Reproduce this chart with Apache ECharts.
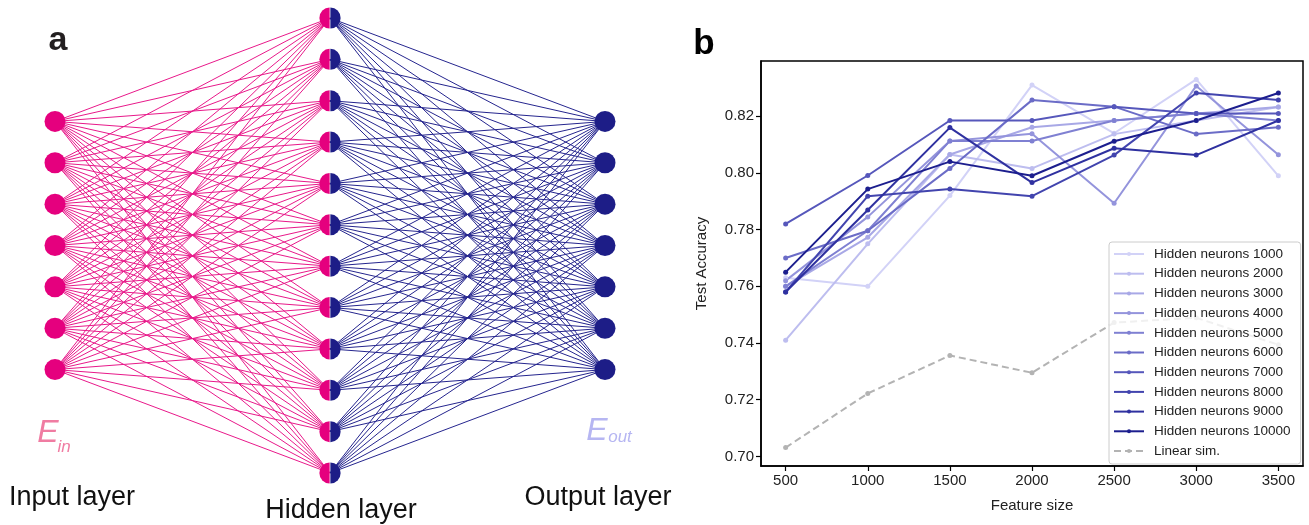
<!DOCTYPE html>
<html>
<head>
<meta charset="utf-8">
<title>Network and test accuracy</title>
<script src="https://cdn.jsdelivr.net/npm/echarts@6/dist/echarts.min.js"></script>
<style>
    html, body {
        margin: 0;
        padding: 0;
        background: #fff;
    }

    #main {
        width: 1309px;
        height: 525px;
    }
</style>
</head>
<body>
<div id="main"></div>
<script>
    // ---- panel a : nodes per layer ----
    var layerSizes = [7, 12, 7];
    var layerNames = ['Input layer', 'Hidden layer', 'Output layer'];

    // ---- panel b : test accuracy vs feature size ----
    var featureSizes = [500, 1000, 1500, 2000, 2500, 3000, 3500];
    var hiddenNeurons = [1000, 2000, 3000, 4000, 5000, 6000, 7000, 8000, 9000, 10000];
    var acc1000 = [0.763, 0.760, 0.792, 0.831, 0.814, 0.833, 0.799];
    var acc2000 = [0.741, 0.775, 0.8065, 0.8016, 0.8137, 0.8185, 0.8233];
    var acc3000 = [0.760, 0.7773, 0.8065, 0.8161, 0.8185, 0.8210, 0.8233];
    var acc4000 = [0.762, 0.7845, 0.8113, 0.8138, 0.7893, 0.8307, 0.8064];
    var acc5000 = [0.760, 0.7796, 0.8113, 0.8113, 0.8185, 0.8210, 0.8185];
    var acc6000 = [0.770, 0.7796, 0.8016, 0.8257, 0.8234, 0.8137, 0.8161];
    var acc7000 = [0.782, 0.7991, 0.8185, 0.8185, 0.8234, 0.8210, 0.8210];
    var acc8000 = [0.758, 0.7918, 0.7943, 0.7918, 0.8063, 0.8282, 0.8257];
    var acc9000 = [0.758, 0.7869, 0.8160, 0.7966, 0.8087, 0.8063, 0.8185];
    var acc10000 = [0.765, 0.7943, 0.8040, 0.7990, 0.8112, 0.8185, 0.8282];
    var linearSim = [0.7031, 0.7222, 0.7356, 0.7295, 0.7472, 0.7489, 0.7394];
    var xTicks = [500, 1000, 1500, 2000, 2500, 3000, 3500];
    var yTicks = [0.70, 0.72, 0.74, 0.76, 0.78, 0.80, 0.82];

    var accAll = [acc1000, acc2000, acc3000, acc4000, acc5000, acc6000, acc7000, acc8000, acc9000, acc10000];
    // light lavender -> navy
    var lineColors = ['#d2d2f7', '#bdbdef', '#a8a8e6', '#9494dc', '#7f80d2',
        '#6b6cc7', '#5657bb', '#4244ae', '#2f31a0', '#1c1e8e'];

    var PINK = '#e5007e';
    var NAVY = '#1d1d87';
    var FONT = 'Liberation Sans, Arial, sans-serif';

    // node coordinates : x = layer index, y = slot, layers centred on the biggest one
    var maxNodes = Math.max.apply(null, layerSizes);
    function layerNodes(l) {
        var arr = [];
        var off = (maxNodes - layerSizes[l]) / 2;
        for (var i = 0; i < layerSizes[l]; i++) arr.push([l, off + i]);
        return arr;
    }
    var inNodes = layerNodes(0);
    var hidNodes = layerNodes(1);
    var outNodes = layerNodes(2);

    function links(from, to) {
        var res = [];
        from.forEach(function (a) {
            to.forEach(function (b) {
                res.push({ coords: [a, b] });
            });
        });
        return res;
    }

    var series = [
        {
            type: 'lines', coordinateSystem: 'cartesian2d', xAxisIndex: 0, yAxisIndex: 0,
            data: links(inNodes, hidNodes), silent: true, z: 1,
            lineStyle: { color: '#e8198a', width: 1, opacity: 1 }
        },
        {
            type: 'lines', coordinateSystem: 'cartesian2d', xAxisIndex: 0, yAxisIndex: 0,
            data: links(hidNodes, outNodes), silent: true, z: 1,
            lineStyle: { color: '#25258e', width: 1, opacity: 1 }
        },
        {
            type: 'scatter', xAxisIndex: 0, yAxisIndex: 0, data: inNodes, z: 3,
            symbolSize: 21, itemStyle: { color: PINK, opacity: 1 }, silent: true
        },
        {
            type: 'scatter', xAxisIndex: 0, yAxisIndex: 0, data: outNodes, z: 3,
            symbolSize: 21, itemStyle: { color: NAVY, opacity: 1 }, silent: true
        },
        // hidden nodes: left half pink, right half navy
        {
            type: 'scatter', xAxisIndex: 0, yAxisIndex: 0, data: hidNodes, z: 3,
            symbol: 'path://M10,0 A10,10 0 0 0 10,20 Z', symbolSize: [10.2, 21], symbolOffset: [-5.5, 0],
            itemStyle: { color: PINK, opacity: 1 }, silent: true
        },
        {
            type: 'scatter', xAxisIndex: 0, yAxisIndex: 0, data: hidNodes, z: 3,
            symbol: 'path://M0,0 A10,10 0 0 1 0,20 Z', symbolSize: [10.2, 21], symbolOffset: [5.5, 0],
            itemStyle: { color: NAVY, opacity: 1 }, silent: true
        }
    ];

    var legendNames = [];
    accAll.forEach(function (vals, k) {
        var name = 'Hidden neurons ' + hiddenNeurons[k];
        legendNames.push(name);
        series.push({
            type: 'line', name: name, xAxisIndex: 1, yAxisIndex: 1,
            data: featureSizes.map(function (f, i) { return [f, vals[i]]; }),
            symbol: 'circle', symbolSize: 5, showSymbol: true,
            lineStyle: { color: lineColors[k], width: 2 },
            itemStyle: { color: lineColors[k] }
        });
    });
    legendNames.push('Linear sim.');
    series.push({
        type: 'line', name: 'Linear sim.', xAxisIndex: 1, yAxisIndex: 1,
        data: featureSizes.map(function (f, i) { return [f, linearSim[i]]; }),
        symbol: 'circle', symbolSize: 5,
        lineStyle: { color: '#b3b3b3', width: 2, type: [7, 4] },
        itemStyle: { color: '#b3b3b3' }
    });

    var txt = function (x, y, text, size, extra) {
        var st = { text: text, fontSize: size, fontFamily: FONT, fill: '#111', align: 'center', verticalAlign: 'middle' };
        for (var k in extra) st[k] = extra[k];
        return { type: 'text', x: x, y: y, style: st, z: 10 };
    };

    var option = {
        animation: false,
        backgroundColor: '#fff',
        grid: [
            { left: 55, top: 18, width: 550, height: 455 },
            { left: 761, top: 61, width: 542, height: 405, show: true, borderColor: '#000', borderWidth: 1.5, backgroundColor: 'transparent' }
        ],
        xAxis: [
            { gridIndex: 0, type: 'value', min: 0, max: 2, show: false },
            {
                gridIndex: 1, type: 'value', min: 350, max: 3650,
                name: 'Feature size', nameLocation: 'middle', nameGap: 32,
                nameTextStyle: { fontSize: 15, fontFamily: FONT, color: '#222' },
                axisLine: { show: true, onZero: false, lineStyle: { color: '#000', width: 1.5 } },
                axisTick: { show: true, customValues: xTicks, length: 5, lineStyle: { color: '#000', width: 1.2 } },
                axisLabel: {
                    customValues: xTicks, fontSize: 15, fontFamily: FONT, color: '#222', margin: 7,
                    formatter: function (v) { return String(v); }
                },
                splitLine: { show: false }
            }
        ],
        yAxis: [
            { gridIndex: 0, type: 'value', min: 0, max: 11, inverse: true, show: false },
            {
                gridIndex: 1, type: 'value', min: 0.6966, max: 0.8395,
                name: 'Test Accuracy', nameLocation: 'middle', nameGap: 52,
                nameTextStyle: { fontSize: 15, fontFamily: FONT, color: '#222' },
                axisLine: { show: true, onZero: false, lineStyle: { color: '#000', width: 1.5 } },
                axisTick: { show: true, customValues: yTicks, length: 5, lineStyle: { color: '#000', width: 1.2 } },
                axisLabel: {
                    customValues: yTicks, fontSize: 15, fontFamily: FONT, color: '#222', margin: 7,
                    formatter: function (v) { return v.toFixed(2); }
                },
                splitLine: { show: false }
            }
        ],
        legend: {
            data: legendNames,
            orient: 'vertical',
            left: 1109, top: 242,
            padding: [5, 10, 6, 4],
            itemWidth: 30, itemHeight: 5, itemGap: 5.7,
            backgroundColor: 'rgba(255,255,255,0.8)',
            borderColor: '#cccccc', borderWidth: 1, borderRadius: 3,
            textStyle: { fontSize: 13.5, lineHeight: 14, fontFamily: FONT, color: '#222', padding: [0, 0, 0, 5] },
            selectedMode: false
        },
        graphic: [
            txt(58, 41, 'a', 34, { fontWeight: 'bold', fill: '#231f20' }),
            txt(704, 44, 'b', 35, { fontWeight: 'bold', fill: '#000' }),
            txt(72, 498, layerNames[0], 27),
            txt(341, 511, layerNames[1], 27),
            txt(598, 498, layerNames[2], 27),
            txt(48, 433, 'E', 32, { fontStyle: 'italic', fill: '#f07ca2' }),
            txt(64, 447, 'in', 17, { fontStyle: 'italic', fill: '#f07ca2' }),
            txt(597, 431, 'E', 32, { fontStyle: 'italic', fill: '#b6b6f2' }),
            txt(620, 437, 'out', 17, { fontStyle: 'italic', fill: '#b6b6f2' })
        ],
        series: series
    };

    var chart = echarts.init(document.getElementById('main'));
    chart.setOption(option);
</script>
</body>
</html>
